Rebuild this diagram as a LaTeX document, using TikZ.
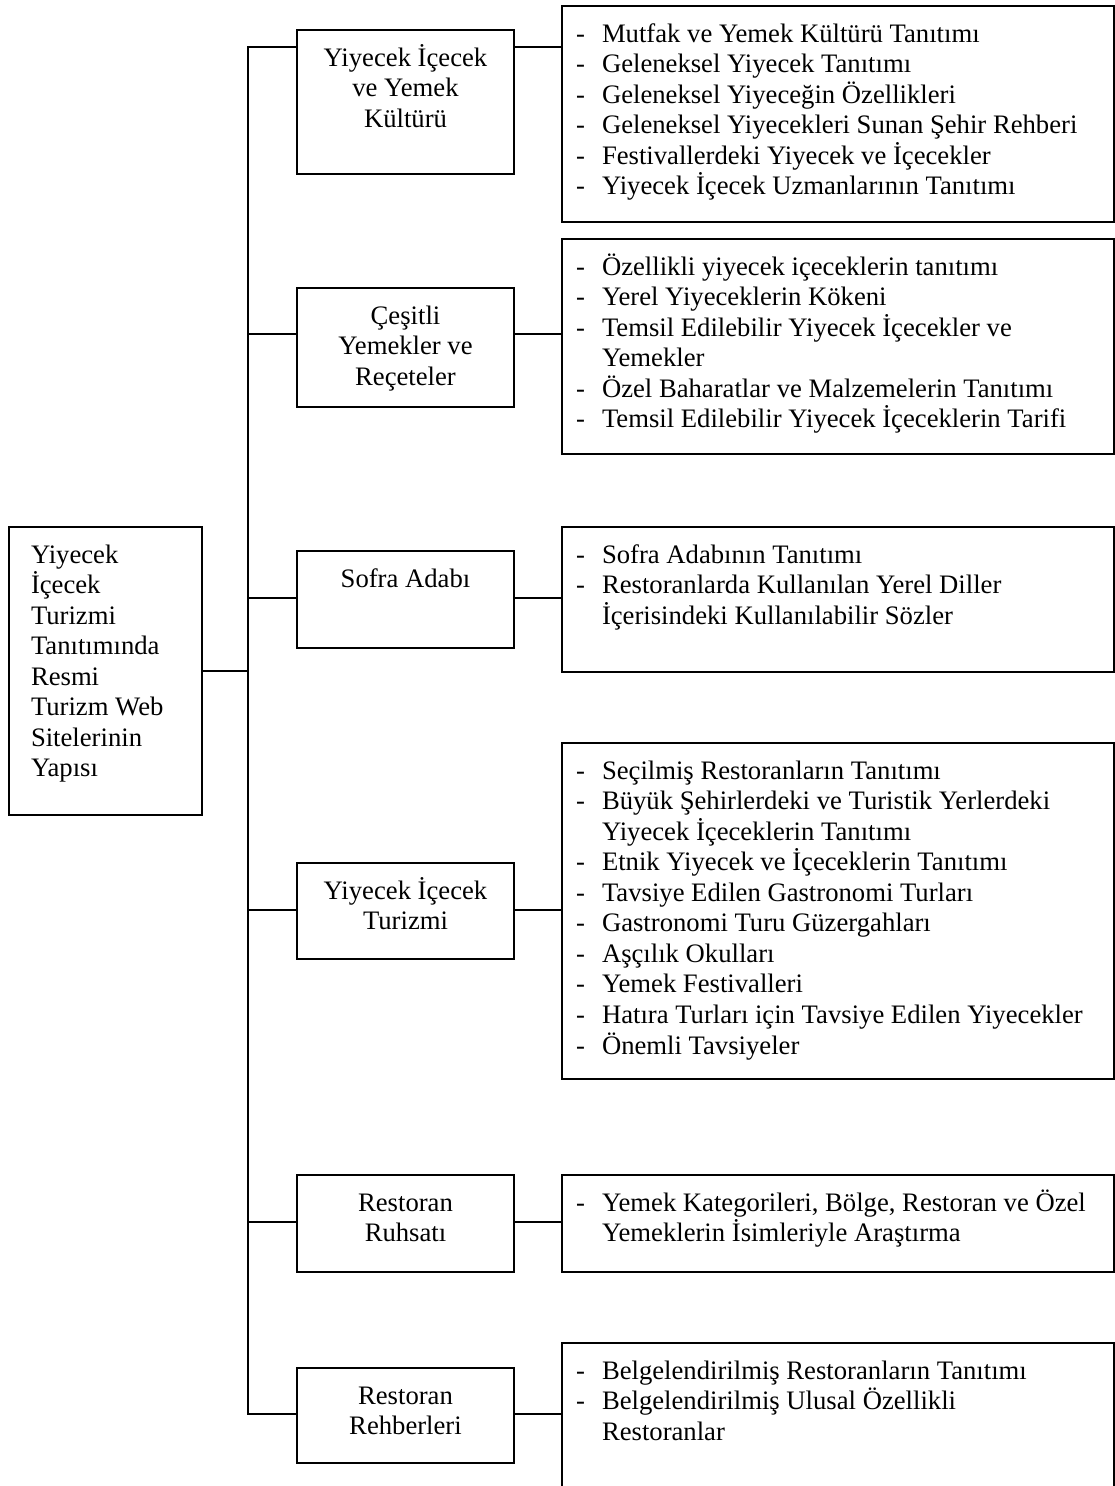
\documentclass[tikz,border=0pt]{standalone}
\usepackage{fontspec}
\setmainfont{Liberation Serif}
\usetikzlibrary{positioning}
\newdimen\pxu \pxu=0.45pt
% box content: height, width, alignment, text
\newcommand{\kutuic}[4]{\parbox[t][#1\pxu][t]{#2\pxu}{#3\rule{0pt}{36\pxu}#4}}
\newcommand{\madde}[1]{\makebox[26\pxu][l]{-}#1\par}
\newcommand{\devam}[1]{\hspace*{26\pxu}#1\par}
\tikzset{
  kutu/.style={draw, line width=0.9pt, inner sep=0pt, anchor=north west,
    font=\fontsize{12}{13.75}\selectfont},
  dal/.style={line width=0.9pt, line join=miter},
}

\begin{document}
\begin{tikzpicture}[x=0.45pt,y=-0.45pt]
\useasboundingbox (0,0) rectangle (1115,1486);

% root
\node[kutu] (kok) at (8,526) {\kutuic{288}{193}{\leftskip=22\pxu\relax}{%
  Yiyecek\par İçecek\par Turizmi\par Tanıtımında\par Resmi\par Turizm Web\par
  Sitelerinin\par Yapısı}};

% middle column
\node[kutu] (kultur) at (296,29) {\kutuic{144}{217}{\centering}{%
  Yiyecek İçecek\par ve Yemek\par Kültürü}};
\node[kutu] (recete) at (296,287) {\kutuic{119}{217}{\centering}{%
  Çeşitli\par Yemekler ve\par Reçeteler}};
\node[kutu] (sofra) at (296,550) {\kutuic{97}{217}{\centering}{Sofra Adabı}};
\node[kutu] (turizm) at (296,862) {\kutuic{96}{217}{\centering}{%
  Yiyecek İçecek\par Turizmi}};
\node[kutu] (ruhsat) at (296,1174) {\kutuic{97}{217}{\centering}{%
  Restoran\par Ruhsatı}};
\node[kutu] (rehber) at (296,1367) {\kutuic{95}{217}{\centering}{%
  Restoran\par Rehberleri}};

% right column
\node[kutu] (kulturL) at (561,5) {\kutuic{216}{552}{\leftskip=14\pxu\relax}{%
  \madde{Mutfak ve Yemek Kültürü Tanıtımı}
  \madde{Geleneksel Yiyecek Tanıtımı}
  \madde{Geleneksel Yiyeceğin Özellikleri}
  \madde{Geleneksel Yiyecekleri Sunan Şehir Rehberi}
  \madde{Festivallerdeki Yiyecek ve İçecekler}
  \madde{Yiyecek İçecek Uzmanlarının Tanıtımı}}};
\node[kutu] (receteL) at (561,238) {\kutuic{215}{552}{\leftskip=14\pxu\relax}{%
  \madde{Özellikli yiyecek içeceklerin tanıtımı}
  \madde{Yerel Yiyeceklerin Kökeni}
  \madde{Temsil Edilebilir Yiyecek İçecekler ve}
  \devam{Yemekler}
  \madde{Özel Baharatlar ve Malzemelerin Tanıtımı}
  \madde{Temsil Edilebilir Yiyecek İçeceklerin Tarifi}}};
\node[kutu] (sofraL) at (561,526) {\kutuic{145}{552}{\leftskip=14\pxu\relax}{%
  \madde{Sofra Adabının Tanıtımı}
  \madde{Restoranlarda Kullanılan Yerel Diller}
  \devam{İçerisindeki Kullanılabilir Sözler}}};
\node[kutu] (turizmL) at (561,742) {\kutuic{336}{552}{\leftskip=14\pxu\relax}{%
  \madde{Seçilmiş Restoranların Tanıtımı}
  \madde{Büyük Şehirlerdeki ve Turistik Yerlerdeki}
  \devam{Yiyecek İçeceklerin Tanıtımı}
  \madde{Etnik Yiyecek ve İçeceklerin Tanıtımı}
  \madde{Tavsiye Edilen Gastronomi Turları}
  \madde{Gastronomi Turu Güzergahları}
  \madde{Aşçılık Okulları}
  \madde{Yemek Festivalleri}
  \madde{Hatıra Turları için Tavsiye Edilen Yiyecekler}
  \madde{Önemli Tavsiyeler}}};
\node[kutu] (ruhsatL) at (561,1174) {\kutuic{97}{552}{\leftskip=14\pxu\relax}{%
  \madde{Yemek Kategorileri, Bölge, Restoran ve Özel}
  \devam{Yemeklerin İsimleriyle Araştırma}}};
\node[kutu] (rehberL) at (561,1342) {\kutuic{148}{552}{\leftskip=14\pxu\relax}{%
  \madde{Belgelendirilmiş Restoranların Tanıtımı}
  \madde{Belgelendirilmiş Ulusal Özellikli}
  \devam{Restoranlar}}};

% branch points on the trunk
\coordinate (b1) at (248,47);
\coordinate (b2) at (248,334);
\coordinate (b3) at (248,598);
\coordinate (b4) at (248,910);
\coordinate (b5) at (248,1222);
\coordinate (b6) at (248,1414);

\draw[dal] (b1 -| kultur.west) -- (b1) -- (b6) -- (b6 -| rehber.west);
\draw[dal] (kok.east) -- (kok.east -| b1);
\foreach \b/\m in {2/recete,3/sofra,4/turizm,5/ruhsat}
  \draw[dal] (b\b) -- (b\b -| \m.west);
\foreach \b/\m in {1/kultur,2/recete,3/sofra,4/turizm,5/ruhsat,6/rehber}
  \draw[dal] (b\b -| \m.east) -- (b\b -| \m L.west);
\end{tikzpicture}
\end{document}
